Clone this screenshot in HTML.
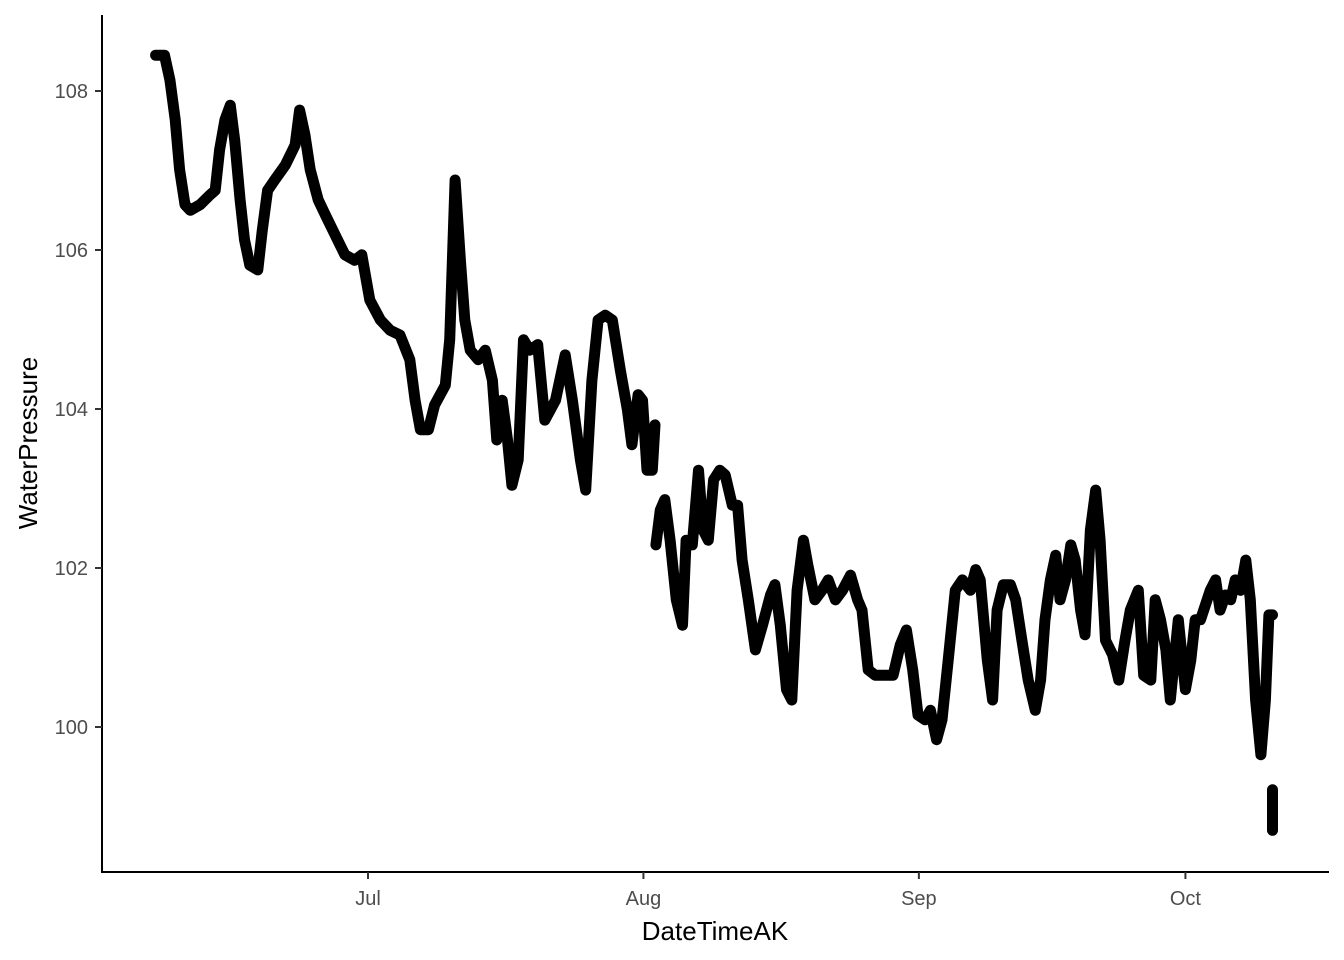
<!DOCTYPE html>
<html><head><meta charset="utf-8">
<style>
html,body{margin:0;padding:0;background:#fff;}
svg{display:block;font-family:"Liberation Sans",Arial,sans-serif;}
</style></head>
<body>
<svg id="chart" width="1344" height="960" viewBox="0 0 1344 960" xmlns="http://www.w3.org/2000/svg">
<rect width="1344" height="960" fill="#fff"/>
<g id="plot"></g>
<g id="axes"></g>
<text x="715" y="940" text-anchor="middle" font-size="26" fill="#000">DateTimeAK</text>
<text transform="translate(37,443) rotate(-90)" text-anchor="middle" font-size="26" fill="#000">WaterPressure</text>
</svg>
<script>
// days relative to Jul 1 (0 = Jul 1)
const days = [-23.9,-22.9,-22.3,-21.7,-21.2,-20.6,-20.0,-18.9,-17.8,-17.2,-16.7,-16.1,-15.5,-15.0,-14.4,-13.9,-13.3,-12.4,-11.9,-11.3,-10.5,-9.3,-8.2,-7.7,-7.1,-6.5,-5.6,-4.8,-3.7,-2.6,-1.5,-0.7,0.2,1.4,2.5,3.6,4.7,5.3,5.9,6.8,7.5,8.7,9.2,9.8,10.4,10.9,11.5,12.4,13.2,14.0,14.5,15.1,15.7,16.2,16.9,17.5,18.2,19.1,19.9,21.1,22.2,23.0,23.9,24.5,25.2,25.9,26.7,27.5,28.4,29.2,29.7,30.4,30.9,31.4,32.0,32.3,
 null,
 32.4,32.9,33.4,34.0,34.7,35.4,35.8,36.5,37.2,37.7,38.3,38.9,39.6,40.2,41.0,41.6,42.1,42.8,43.6,44.4,45.3,45.8,46.4,47.1,47.7,48.3,49.0,49.5,50.3,51.1,51.8,52.6,53.4,54.3,55.1,55.6,56.3,57.1,58.2,59.1,59.9,60.6,61.3,61.9,62.7,63.3,64.0,64.6,65.3,66.1,66.9,67.8,68.4,68.9,69.7,70.3,70.8,71.5,72.3,72.9,73.6,74.3,75.1,75.7,76.2,76.8,77.4,77.9,78.5,79.1,79.6,80.2,80.7,81.3,81.9,82.4,83.0,83.8,84.5,85.2,85.8,86.7,87.3,88.1,88.6,89.2,89.8,90.3,91.2,92.0,92.6,93.1,93.7,94.8,95.4,95.9,96.5,97.1,97.6,98.2,98.8,99.3,99.9,100.5,101.0,101.4,101.8,
 null,
 101.8,101.8];
const pressure = [108.45,108.45,108.14,107.64,107.01,106.57,106.50,106.57,106.69,106.75,107.26,107.64,107.82,107.38,106.63,106.13,105.81,105.75,106.25,106.75,106.88,107.07,107.32,107.76,107.45,107.01,106.63,106.44,106.19,105.94,105.87,105.94,105.37,105.12,104.99,104.93,104.62,104.11,103.74,103.74,104.05,104.30,104.87,106.88,105.87,105.12,104.74,104.62,104.74,104.36,103.61,104.11,103.61,103.04,103.36,104.87,104.74,104.81,103.86,104.11,104.68,104.11,103.36,102.98,104.36,105.12,105.18,105.12,104.49,103.99,103.55,104.18,104.11,103.23,103.23,103.80,
 null,
 102.29,102.73,102.86,102.35,101.60,101.28,102.35,102.29,103.23,102.48,102.35,103.11,103.23,103.17,102.79,102.79,102.10,101.60,100.97,101.28,101.66,101.79,101.28,100.47,100.34,101.72,102.35,102.04,101.60,101.72,101.85,101.60,101.72,101.91,101.60,101.47,100.72,100.65,100.65,100.65,101.03,101.22,100.72,100.15,100.09,100.21,99.84,100.09,100.84,101.72,101.85,101.72,101.98,101.85,100.84,100.34,101.47,101.79,101.79,101.60,101.09,100.59,100.21,100.59,101.35,101.85,102.16,101.60,101.85,102.29,102.10,101.47,101.16,102.48,102.98,102.35,101.09,100.91,100.59,101.09,101.47,101.72,100.65,100.59,101.60,101.35,100.97,100.34,101.35,100.47,100.84,101.35,101.35,101.72,101.85,101.47,101.66,101.60,101.85,101.72,102.10,101.60,100.34,99.65,100.34,101.41,101.41,
 null,
 99.21,98.70];
const xTickDays = [0,31,62,92];
const xTickLabels = ["Jul","Aug","Sep","Oct"];
const yTicks = [100,102,104,106,108];

const NS="http://www.w3.org/2000/svg";
// axis functions (Jul 1 -> 368px, ~8.88 px/day; 100 -> 727px, 79.5 px/unit)
function xScale(d){return 368 + d*8.885;}
function yScale(v){return 727 - (v-100)*79.5;}

const plot=document.getElementById('plot');
let dstr="", pen=false;
for(let i=0;i<days.length;i++){
  if(days[i]===null||pressure[i]===null){pen=false;continue;}
  dstr += (pen?"L":"M")+xScale(days[i]).toFixed(1)+","+yScale(pressure[i]).toFixed(1)+" ";
  pen=true;
}
const path=document.createElementNS(NS,'path');
path.setAttribute('d',dstr);
path.setAttribute('fill','none');
path.setAttribute('stroke','#000');
path.setAttribute('stroke-width','11');
path.setAttribute('stroke-linejoin','round');
path.setAttribute('stroke-linecap','round');


plot.appendChild(path);

const axes=document.getElementById('axes');
function mk(tag,attrs){const e=document.createElementNS(NS,tag);for(const k in attrs)e.setAttribute(k,attrs[k]);axes.appendChild(e);return e;}
const yl=mk('line',{x1:102,y1:15,x2:102,y2:873,stroke:'#000','stroke-width':2});


const xl=mk('line',{x1:101,y1:872,x2:1329,y2:872,stroke:'#000','stroke-width':2});


yTicks.forEach(v=>{
  const y=yScale(v);
  const t=mk('line',{x1:95,y1:y,x2:102,y2:y,stroke:'#333','stroke-width':2});
  
  
  const l=mk('text',{x:88,y:y+7,'text-anchor':'end','font-size':20,fill:'#4d4d4d'});
  l.textContent=v;
  
  
});
xTickDays.forEach((d,i)=>{
  const x=xScale(d);
  const t=mk('line',{x1:x,y1:872,x2:x,y2:879,stroke:'#333','stroke-width':2});
  
  
  const l=mk('text',{x:x,y:905,'text-anchor':'middle','font-size':20,fill:'#4d4d4d'});
  l.textContent=xTickLabels[i];
  
  
});
</script>
</body></html>
